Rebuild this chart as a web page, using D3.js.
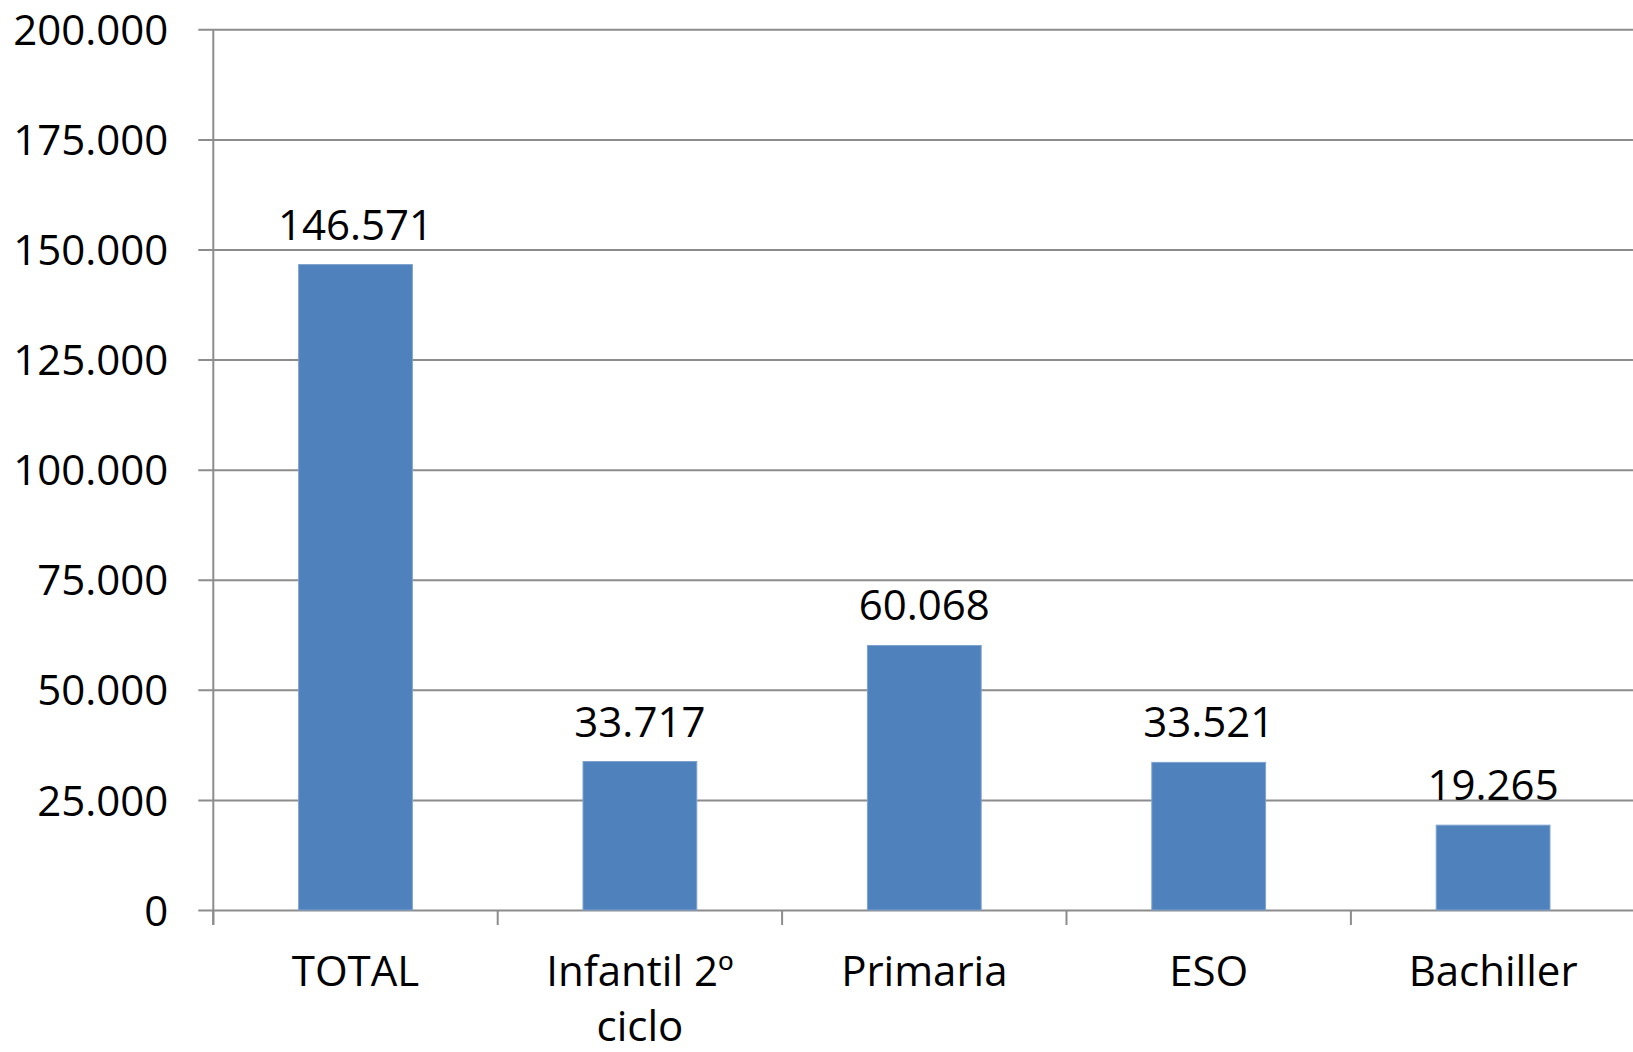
<!DOCTYPE html>
<html>
<head>
<meta charset="utf-8">
<script src="https://cdn.jsdelivr.net/npm/d3@7/dist/d3.min.js"></script>
<style>
  body { margin: 0; background: #fff; }
  text { font-family: "Open Sans", sans-serif; fill: #000; }
</style>
</head>
<body>
<svg width="1633" height="1052"></svg>
<script>
// data
var categories = ["TOTAL", "Infantil 2º ciclo", "Primaria", "ESO", "Bachiller"];
var values = [146571, 33717, 60068, 33521, 19265];
var yTicks = [0, 25000, 50000, 75000, 100000, 125000, 150000, 175000, 200000];

var svg = d3.select("svg"),
    margin = {top: 29.3, left: 213.3},
    width = 1422,
    height = 880.7,
    g = svg.append("g").attr("transform", "translate(" + margin.left + "," + margin.top + ")");

var x = d3.scaleBand()
    .domain(categories)
    .range([0, width])
    .paddingInner(0.6)
    .paddingOuter(0.3);

var y = d3.scaleLinear()
    .domain([0, 200000])
    .range([height, 0]);

// thousands with a dot, like the original
var fmt = function(v) {
  return d3.format(",")(v).replace(/,/g, ".");
};

// gridlines + y axis
var yAxis = g.append("g")
    .call(d3.axisLeft(y).tickValues(yTicks).tickFormat(fmt).tickSize(15).tickPadding(30));
yAxis.select(".domain").remove();
yAxis.selectAll(".tick line")
    .attr("x2", width + 20)
    .attr("x1", -15)
    .attr("stroke", "#8c8c8c")
    .attr("stroke-width", 2);
yAxis.selectAll(".tick text")
    .attr("font-size", 42)
    .attr("font-family", "Open Sans, sans-serif")
    .attr("dy", "0.36em");

// vertical axis line
g.append("line")
    .attr("x1", 0).attr("x2", 0)
    .attr("y1", 0).attr("y2", height + 15)
    .attr("stroke", "#8c8c8c")
    .attr("stroke-width", 2);

// category tick marks at band edges
var edges = categories.map(function(c) { return x(c) - x.step() * x.paddingOuter(); });
g.selectAll(".xtick")
  .data(edges)
  .enter().append("line")
    .attr("class", "xtick")
    .attr("x1", function(d) { return d; })
    .attr("x2", function(d) { return d; })
    .attr("y1", height)
    .attr("y2", height + 15)
    .attr("stroke", "#8c8c8c")
    .attr("stroke-width", 2);

// bars
g.selectAll(".bar")
  .data(values)
  .enter().append("rect")
    .attr("class", "bar")
    .attr("x", function(d, i) { return x(categories[i]); })
    .attr("y", function(d) { return y(d); })
    .attr("width", x.bandwidth())
    .attr("height", function(d) { return height - y(d); })
    .attr("fill", "#4f81bd")
    .attr("stroke", "#7ea2cf")
    .attr("stroke-width", 1);

// value labels
g.selectAll(".val")
  .data(values)
  .enter().append("text")
    .attr("class", "val")
    .attr("x", function(d, i) { return x(categories[i]) + x.bandwidth() / 2; })
    .attr("y", function(d) { return y(d) - 25; })
    .attr("text-anchor", "middle")
    .attr("font-size", 42)
    .text(fmt);

// category labels (wrap the long one)
var lines = {"Infantil 2º ciclo": ["Infantil 2º", "ciclo"]};
g.selectAll(".cat")
  .data(categories)
  .enter().append("text")
    .attr("class", "cat")
    .attr("text-anchor", "middle")
    .attr("font-size", 42)
    .attr("transform", function(d) { return "translate(" + (x(d) + x.bandwidth() / 2) + "," + (height + 76) + ")"; })
  .selectAll("tspan")
    .data(function(d) { return lines[d] || [d]; })
    .enter().append("tspan")
      .attr("x", 0)
      .attr("dy", function(d, i) { return i ? 55 : 0; })
      .text(function(d) { return d; });
</script>
</body>
</html>
